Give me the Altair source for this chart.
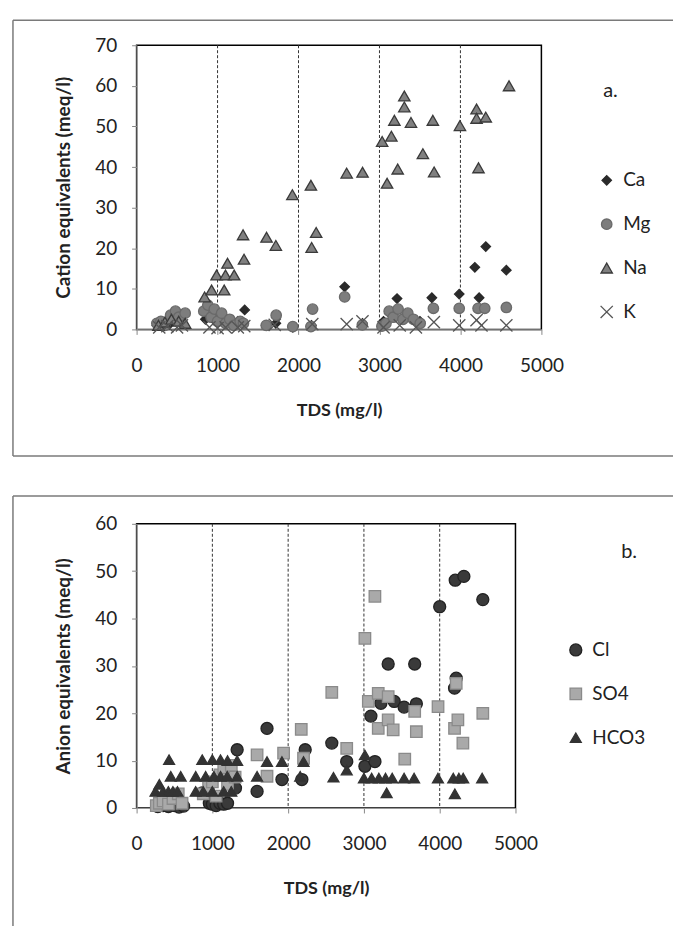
import altair as alt
import pandas as pd

FONT = "Lato"
TXT = "#222222"

# ---------------- Panel a: cations ----------------
ca_tds = [250, 320, 400, 480, 560, 850, 950, 1050, 1150, 1250, 1335, 1600, 1720, 1930, 2160,
          2570, 2790, 3050, 3150, 3217, 3300, 3500, 3647, 3985, 4178, 4231, 4313, 4567]
ca_val = [1.0, 1.5, 1.2, 2.0, 1.5, 2.5, 3.0, 2.0, 1.5, 2.0, 4.8, 1.0, 1.5, 0.5, 1.0,
          10.5, 1.5, 2.0, 3.5, 7.6, 3.0, 2.0, 7.8, 8.7, 15.3, 7.8, 20.4, 14.6]

mg_tds = [250, 300, 350, 420, 480, 520, 600, 830, 880, 920, 960, 1000, 1050, 1100, 1150, 1200,
          1280, 1320, 1601, 1724, 1929, 2153, 2174, 2570, 2788, 3030, 3080, 3120, 3170, 3230,
          3290, 3350, 3420, 3503, 3666, 3985, 4218, 4300, 4567]
mg_val = [1.5, 2.0, 1.0, 3.5, 4.5, 3.0, 4.0, 4.5, 6.0, 3.0, 5.0, 2.0, 4.0, 1.5, 2.5, 1.0,
          2.0, 1.5, 1.0, 3.5, 0.7, 0.7, 5.0, 8.0, 1.1, 0.8, 1.5, 4.5, 3.0, 5.0,
          2.5, 4.0, 2.5, 1.5, 5.2, 5.2, 5.2, 5.2, 5.4]

na_tds = [270, 350, 430, 520, 600, 840, 926, 988, 1082, 1098, 1123, 1205, 1315, 1327, 1605,
          1720, 1924, 2153, 2162, 2218, 2595, 2791, 3033, 3094, 3147, 3184, 3225, 3307, 3307,
          3389, 3536, 3659, 3675, 3994, 4199, 4199, 4223, 4313, 4600]
na_val = [1.0, 1.8, 2.5, 2.0, 1.5, 8.0, 9.7, 13.4, 9.7, 13.4, 16.3, 13.4, 23.3, 17.3, 22.7,
          20.7, 33.2, 35.5, 20.2, 23.9, 38.5, 38.7, 46.3, 36.0, 47.6, 51.5, 39.5, 54.8, 57.5,
          51.0, 43.3, 51.5, 38.8, 50.2, 54.3, 52.0, 39.8, 52.3, 60.0]

k_tds = [280, 380, 500, 560, 900, 1000, 1100, 1250, 1330, 1706, 2170, 2595, 2790, 3050, 3250,
         3450, 3672, 3985, 4199, 4260, 4567]
k_val = [0.5, 0.8, 0.5, 1.0, 0.5, 0.3, 0.5, 0.5, 0.8, 1.1, 1.3, 1.3, 2.0, 0.5, 1.0,
         0.5, 1.8, 1.0, 2.3, 1.0, 1.0]

# ---------------- Panel b: anions ----------------
cl_tds = [280, 350, 420, 500, 560, 620, 867, 960, 1000, 1050, 1100, 1150, 1200, 1305, 1327,
          1590, 1721, 1918, 2181, 2225, 2576, 2773, 3013, 3092, 3145, 3224, 3320, 3400, 3530,
          3670, 3692, 4000, 4196, 4205, 4218, 4319, 4569]
cl_val = [0.3, 0.5, 0.3, 0.5, 0.2, 0.4, 3.2, 1.0, 0.8, 0.5, 1.0, 0.8, 1.0, 4.2, 12.3,
          3.5, 16.8, 6.0, 6.0, 12.3, 13.7, 9.8, 8.8, 19.4, 9.8, 22.1, 30.4, 22.5, 21.3,
          30.4, 22.0, 42.5, 25.3, 48.1, 27.4, 48.9, 44.0]

so4_tds = [260, 300, 350, 420, 480, 550, 600, 880, 950, 1000, 1050, 1100, 1150, 1200, 1250,
           1300, 1590, 1721, 1940, 2173, 2203, 2576, 2773, 3013, 3058, 3145, 3189, 3189, 3320,
           3320, 3386, 3539, 3670, 3692, 3978, 4196, 4218, 4240, 4306, 4569]
so4_val = [0.5, 1.0, 1.5, 0.8, 2.0, 3.0, 1.0, 3.0, 4.5, 5.5, 2.5, 7.0, 8.5, 5.0, 9.0,
           6.5, 11.2, 6.7, 11.6, 16.6, 10.5, 24.4, 12.6, 35.8, 22.5, 44.7, 24.2, 16.8, 23.5,
           18.6, 16.5, 10.3, 20.4, 16.1, 21.4, 16.8, 26.3, 18.6, 13.7, 20.0]

hco3_tds = [429, 867, 1000, 1108, 1200, 1327, 1721, 1918, 2203, 3013,
            451, 582, 780, 911, 1020, 1108, 1196, 1327, 1590, 2159, 2598, 3000, 3102, 3197,
            3285, 3373, 3530, 3662, 3977, 4179, 4253, 4310, 4560,
            250, 300, 350, 420, 480, 540, 780, 880, 1000, 1150, 1250, 2773, 3300, 4200]
hco3_val = [10.2, 10.2, 10.2, 10.2, 10.0, 10.0, 9.8, 9.8, 9.8, 11.2,
            6.7, 6.7, 6.7, 6.7, 6.7, 6.7, 6.7, 6.7, 6.7, 6.7, 6.5, 6.3, 6.3, 6.3,
            6.3, 6.3, 6.3, 6.3, 6.3, 6.3, 6.3, 6.3, 6.3,
            3.5, 5.0, 3.5, 3.5, 3.5, 3.5, 3.5, 3.5, 3.5, 3.5, 3.5, 8.0, 3.2, 3.0]

grid_tds = [1000, 2000, 3000, 4000]
x_ticks = [0, 1000, 2000, 3000, 4000, 5000]

X_PATH = "M-1,-1L1,1M1,-1L-1,1"


def build_df(series, field):
    rows = []
    for name, xs, ys in series:
        for a, b in zip(xs, ys):
            rows.append({"TDS": a, "val": b, field: name})
    return pd.DataFrame(rows)


def panel(df, field, names, shapes, fills, strokes, sizes, ymax, ytitle, w, h,
          legx, legy, tag, tagx, tagy, frame_top, frame_bottom, frame_right,
          frame_left, closed_bottom):
    xs = alt.X("TDS:Q", scale=alt.Scale(domain=[0, 5000], nice=False),
               axis=alt.Axis(values=x_ticks, title="TDS (mg/l)", grid=False, format="d",
                             labelFlush=False,
                             labelFontSize=19, labelFont=FONT, labelColor=TXT,
                             labelPadding=22, tickSize=5, tickColor="#888",
                             domainColor="#999", domainWidth=1.2,
                             titleFont=FONT, titleFontSize=18, titleFontWeight="bold",
                             titleColor=TXT, titlePadding=26))
    ys = alt.Y("val:Q", scale=alt.Scale(domain=[0, ymax], nice=False),
               axis=alt.Axis(values=list(range(0, ymax + 1, 10)), title=ytitle, grid=False,
                             labelFlush=False,
                             labelFontSize=19, labelFont=FONT, labelColor=TXT,
                             labelPadding=15, tickSize=5, tickColor="#888",
                             domainColor="#999", domainWidth=1.2,
                             titleFont=FONT, titleFontSize=19, titleFontWeight="bold",
                             titleColor=TXT, titlePadding=21))

    grid = alt.Chart(pd.DataFrame({"TDS": grid_tds})).mark_rule(
        color="#333", strokeDash=[3, 2], strokeWidth=1
    ).encode(x=xs)

    leg = alt.Legend(orient="none", legendX=legx, legendY=legy, title=None,
                     labelFontSize=19, labelFont=FONT, labelColor=TXT,
                     rowPadding=24, labelOffset=7, padding=0, symbolStrokeWidth=1.3)
    f = field + ":N"
    pts = alt.Chart(df).mark_point(filled=True, strokeWidth=1.3, opacity=1).encode(
        x=xs, y=ys,
        shape=alt.Shape(f, scale=alt.Scale(domain=names, range=shapes), legend=leg),
        fill=alt.Fill(f, scale=alt.Scale(domain=names, range=fills), legend=leg),
        stroke=alt.Stroke(f, scale=alt.Scale(domain=names, range=strokes), legend=leg),
        size=alt.Size(f, scale=alt.Scale(domain=names, range=sizes), legend=leg),
    )

    one = pd.DataFrame({"t": [tag]})
    label = alt.Chart(one).mark_text(font=FONT, fontSize=20, color=TXT, align="left",
                                     baseline="middle").encode(
        text="t:N", x=alt.value(tagx), y=alt.value(tagy))

    fc = "#7a7a7a"
    fw = 1.5
    top_line = alt.Chart(one).mark_rule(color=fc, strokeWidth=fw).encode(
        x=alt.value(frame_left), x2=alt.value(frame_right), y=alt.value(frame_top))
    left_line = alt.Chart(one).mark_rule(color=fc, strokeWidth=fw).encode(
        x=alt.value(frame_left), y=alt.value(frame_top), y2=alt.value(frame_bottom))
    layers = [top_line, left_line]
    if closed_bottom:
        bot_line = alt.Chart(one).mark_rule(color=fc, strokeWidth=fw).encode(
            x=alt.value(frame_left), x2=alt.value(frame_right), y=alt.value(frame_bottom))
        layers.append(bot_line)

    return alt.layer(*layers, grid, pts, label).properties(width=w, height=h)


df_a = build_df([("Ca", ca_tds, ca_val), ("Mg", mg_tds, mg_val),
                 ("Na", na_tds, na_val), ("K", k_tds, k_val)], "Cation")
df_b = build_df([("Cl", cl_tds, cl_val), ("SO4", so4_tds, so4_val),
                 ("HCO3", hco3_tds, hco3_val)], "Anion")

top = panel(df_a, "Cation", ["Ca", "Mg", "Na", "K"],
            ["diamond", "circle", "triangle-up", X_PATH],
            ["#2a2a2a", "#7d7d7d", "#808080", "transparent"],
            ["#2a2a2a", "#6a6a6a", "#3a3a3a", "#555555"],
            [90, 150, 150, 80],
            70, "Cation equivalents (meq/l)", 406, 285,
            462, 126, "a.", 468, 46,
            -25, 412, 538, -124, True)

bottom = panel(df_b, "Anion", ["Cl", "SO4", "HCO3"],
               ["circle", "square", "triangle-up"],
               ["#3a3a3a", "#a9a9a9", "#333333"],
               ["#222222", "#8a8a8a", "#333333"],
               [145, 120, 34],
               60, "Anion equivalents (meq/l)", 380, 285,
               431, 117, "b.", 486, 28,
               -28, 404, 538, -124, False)

chart = alt.vconcat(top, bottom, spacing=36).resolve_scale(
    x="independent", y="independent", shape="independent", fill="independent",
    stroke="independent", size="independent"
).resolve_legend(
    shape="independent", fill="independent", stroke="independent", size="independent"
).properties(
    padding={"left": 11, "top": 17, "right": 0, "bottom": 0},
    background="white",
).configure_view(stroke="#000", strokeWidth=1.5)

chart.save("out.html", embed_options={"renderer": "svg", "actions": False})
